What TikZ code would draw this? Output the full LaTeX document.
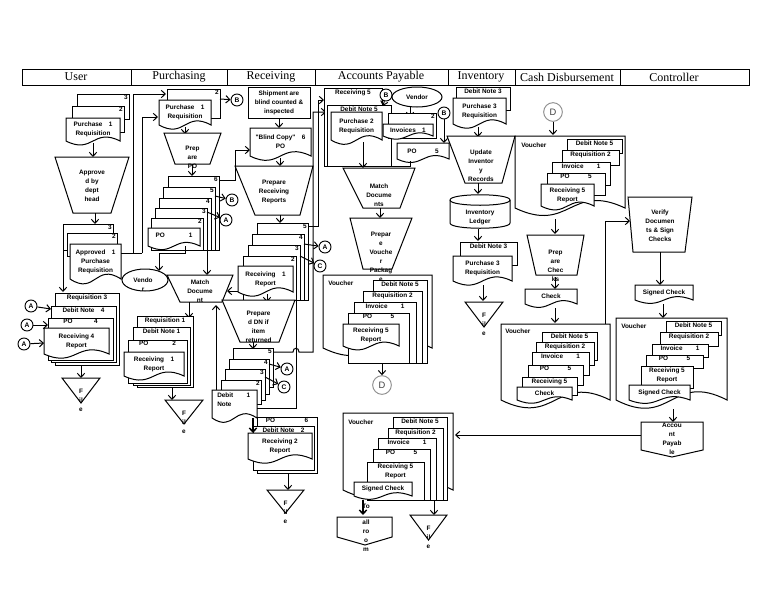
\documentclass[tikz,border=0pt]{standalone}
\usepackage{fontspec}
\setmainfont{Liberation Serif}
\newfontfamily\bodyfont{Liberation Sans}
\usetikzlibrary{arrows.meta,shapes.geometric}

\newcommand\DocS[7][0]{%
  \draw[shp] (#3,#4) -- (#5,#4) -- (#5,#6) .. controls ({(#3+#5)/2},{#6-8-0.25*(#6-#4)}) and ({(#3+#5)/2},{#6+8+0.25*(#6-#4)}) .. (#3,#6) -- cycle;
  \node[txt, minimum width={(#5-#3)*0.75pt}, minimum height={(#6-#4)*0.75pt}] (#2) at ({(#3+#5)/2},{(#4+#6)/2+(#1)}) {#7};
}
\newcommand\SBox[7][north]{%
  \node[shp, inner sep=0pt, minimum width={(#5-#3)*0.75pt}, minimum height={(#6-#4)*0.75pt},
    label={[txt,anchor=#1,inner sep=1.2pt]#1:{#7}}] (#2) at ({(#3+#5)/2},{(#4+#6)/2}) {};
}
\newcommand\TrapS[9]{%
  \draw[shp] (#2,#4) -- (#3,#4) -- (#6,#7) -- (#5,#7) -- cycle;
  \node[txt] (#1) at ({(#2+#3)/2},{#8}) {#9};
}
\newcommand\FileT[5]{%
  \draw[shp] (#2,#4) -- (#3,#4) -- ({(#2+#3)/2},#5) -- cycle;
  \node[txt] (#1) at ({(#2+#3)/2},{#4+22}) {F\\il\\e};
}

\begin{document}
\begin{tikzpicture}[x=0.75pt,y=-0.75pt,
  ln/.style={line width=0.75pt},
  shp/.style={draw, fill=white, line width=0.75pt},
  arr/.style={draw, line width=0.75pt, -{Straight Barb[length=3pt,width=5.5pt]}},
  txt/.style={font=\bodyfont\bfseries\fontsize{4.8}{6.75}\selectfont, align=center, inner sep=0pt},
  con/.style={circle, draw, fill=white, line width=0.7pt, minimum size=9pt, inner sep=0pt, font=\bodyfont\bfseries\fontsize{5}{6}\selectfont},
  dcon/.style={circle, draw=black!45, fill=white, line width=0.7pt, minimum size=14pt, inner sep=0pt, font=\bodyfont\fontsize{7}{8}\selectfont, text=black!75},
  hdr/.style={font=\fontsize{9}{10}\selectfont, inner sep=0pt}
]
\fill[white] (0,0) rectangle (768,594);
\useasboundingbox (0,0) rectangle (768,594);

% ---------- header ----------
\draw[ln] (22,69) rectangle (749,85);
\foreach \x in {131,227,315,448,515,620} \draw[ln] (\x,69) -- (\x,85);
\node[hdr] (hU) at (76,77) {User};
\node[hdr] (hP) at (179,77) {Purchasing};
\node[hdr] (hR) at (271,77) {Receiving};
\node[hdr] (hA) at (381,77) {Accounts Payable};
\node[hdr] (hI) at (481,77) {Inventory};
\node[hdr] (hC) at (567,77) {Cash Disbursement};
\node[hdr] (hK) at (674,77) {Controller};

% ---------- User ----------
\SBox[north east]{u3}{77}{94}{129}{119}{3}
\SBox[north east]{u2}{72}{106}{124}{132}{2}
\DocS{ureq}{66}{118}{120}{141}{Purchase\quad 1\\Requisition}
\draw[arr] (93,143) -- (93,157);
\TrapS{uappr}{55}{129}{157}{73}{111}{213}{186}{Approve\\d by\\dept\\head}
\draw[arr] (95,213) -- (95,224);
\SBox[north east]{ua3}{63}{224}{113}{250}{3}
\SBox[north east]{ua2}{67}{233}{117}{256}{2}
\DocS{uapr}{70}{244}{121}{279}{Approved\quad 1\\Purchase\\Requisition}
\draw[ln] (121,253) -- (142,253);
\draw[arr] (133,253) -- (133,94) -- (166,94);
\draw[arr] (142,253) -- (142,117) -- (158,117);
\draw[arr] (63,250) -- (63,292);

\SBox{ur3}{55}{293}{119}{365}{Requisition 3}
\SBox{ud4}{51}{306}{116}{362}{Debit Note\quad 4}
\SBox{up4}{48}{318}{113}{360}{PO\hspace{16pt}4}
\DocS{urec4}{44}{328}{109}{354}{Receiving 4\\Report}
\node[con] (uA1) at (31,306) {A};
\node[con] (uA2) at (27,325) {A};
\node[con] (uA3) at (24,344) {A};
\draw[arr] (uA1) -- (51,309);
\draw[arr] (uA2) -- (48,325);
\draw[arr] (uA3) -- (44,343);
\draw[arr] (81,365) -- (81,378);
\FileT{uf}{62}{100}{378}{403}

% ---------- Purchasing ----------
\SBox[north east]{pr2}{167}{89}{220}{118}{2}
\DocS{preq}{159}{100}{211}{125}{Purchase\quad 1\\Requisition}
\node[con] (pB1) at (237,100) {B};
\draw[arr] (220,99) -- (pB1);
\draw[arr] (185,127) -- (185,134);
\TrapS{pprep}{164}{221}{133}{175}{210}{164}{157}{Prep\\are\\PO}
\draw[arr] (192,164) -- (192,176);
\SBox[north east]{po6}{168}{176}{219}{250}{6}
\SBox[north east]{po5}{163}{187}{215}{250}{5}
\SBox[north east]{po4}{159}{198}{211}{250}{4}
\SBox[north east]{po3}{155}{208}{207}{250}{3}
\SBox[north east]{po2}{151}{218}{203}{250}{2}
\DocS[-2]{po1}{148}{228}{200}{246}{PO\hspace{18pt}1}
\node[con] (pB2) at (232,200) {B};
\node[con] (pA) at (226,220) {A};
\draw[arr] (215,196) -- (pB2);
\draw[arr] (207,212) -- (pA);
\draw[arr] (219,180) -- (235,180) -- (235,150) -- (250,150);
\draw[ln] (185,246) -- (185,253) -- (159,253);
\draw[arr] (159,253) -- (159,271);
\draw[arr] (207,250) -- (207,275);
\node[ellipse, shp, minimum width={46*0.75pt}, minimum height={22*0.75pt}, inner sep=0pt] (pven) at (145,280) {};
\node[txt] (pventxt) at (143,285) {Vendo\\r};
\TrapS{pmatch}{167}{233}{275}{180}{222}{302}{291}{Match\\Docume\\nt}
\draw[arr] (238,291) -- (227,291);
\draw[arr] (216,390) -- (216,305);
\draw[arr] (189,302) -- (189,318);
\SBox{pq1}{137}{316}{193}{387}{Requisition 1}
\SBox{pd1}{133}{327}{190}{385}{Debit Note 1}
\SBox{pp2}{128}{340}{187}{383}{PO\hspace{18pt}2}
\DocS{prec1}{124}{352}{184}{376}{Receiving\quad 1\\Report}
\draw[arr] (172,387) -- (172,400);
\FileT{pf}{165}{203}{400}{424}

% ---------- Receiving ----------
\node[shp, txt, minimum width={62*0.75pt}, minimum height={31*0.75pt}] (rship) at (279,102.5) {Shipment are\\blind counted \&\\inspected};
\draw[arr] (rship.south) -- (279,128);
\DocS{rblind}{250}{128}{311}{156}{"Blind Copy"\quad 6\\PO}
\draw[arr] (280,158) -- (280,166);
\TrapS{rprep}{235}{313}{166}{255}{300}{215}{192}{Prepare\\Receiving\\Reports}
\draw[arr] (280,215) -- (280,223);
\SBox[north east]{rr5}{257}{223}{308}{300}{5}
\SBox[north east]{rr4}{252}{234}{304}{300}{4}
\SBox[north east]{rr3}{248}{245}{300}{300}{3}
\SBox[north east]{rr2}{243}{256}{296}{300}{2}
\DocS{rrec1}{238}{266}{293}{292}{Receiving\quad 1\\Report}
\node[con] (rA) at (325,247) {A};
\node[con] (rC) at (320,266) {C};
\draw[arr] (304,244) -- (rA);
\draw[arr] (300,256) -- (rC);
\draw[arr] (308,226) -- (318,226) -- (318,100) -- (324,100);
\draw[arr] (267,294) -- (267,302);
\TrapS{rdn}{222}{295}{300}{240}{279}{342}{327}{Prepare\\d DN if\\item\\returned}
\draw[arr] (253,342) -- (253,349);
\SBox[north east]{rd5}{233}{348}{273}{387}{5}
\SBox[north east]{rd4}{229}{359}{269}{394}{4}
\SBox[north east]{rd3}{225}{369}{265}{400}{3}
\SBox[north east]{rd2}{221}{380}{261}{404}{2}
\DocS{rdn1}{212}{390}{257}{418}{}
\node[txt, align=left, anchor=north west] (rdn1t) at (217,393) {Debit\hspace{10pt}1\\Note};
\node[con] (rA2) at (287,369) {A};
\node[con] (rC2) at (284,387) {C};
\draw[arr] (269,364) -- (rA2);
\draw[arr] (265,377) -- (rC2);
\draw[ln] (296,300) -- (296,408) -- (257,408);
\draw[arr] (273,352) -- (293,352) .. controls (293,347) and (299,347) .. (299,352) -- (313,352) -- (313,112) -- (326,112);
\SBox{rpo6}{257}{417}{317}{473}{PO\hspace{22pt}6}
\SBox{rdn2}{253}{426}{314}{470}{Debit Note\quad 2}
\DocS{rrec2}{248}{433}{312}{459}{Receiving 2\\Report}
\draw[arr, line width=1.1pt] (253,418) -- (253,433);
\draw[arr] (288,473) -- (288,490);
\FileT{rf}{267}{304}{490}{513}

% ---------- Accounts Payable ----------
\SBox{ar5}{324}{88}{382}{166}{Receiving 5}
\SBox{ad5}{327}{105}{391}{166}{Debit Note 5}
\DocS{apr2}{331}{112}{382}{140}{Purchase 2\\Requisition}
\node[con] (aB1) at (386,95) {B};
\draw[arr] (aB1) -- (383,106);
\node[ellipse, shp, txt, minimum width={50*0.75pt}, minimum height={20*0.75pt}] (aven) at (417,97) {Vendor};
\draw[arr] (410,107) -- (410,117);
\SBox[north east]{ai2}{388}{113}{436}{138}{2}
\DocS{ainv}{383}{124}{433}{136}{Invoices\quad 1}
\DocS{apo5}{397}{143}{449}{159}{PO\hspace{14pt}5}
\node[con] (aB2) at (444,113) {B};
\draw[arr] (aB2) -- (444,143);
\draw[ln] (324,166) -- (410,166) -- (410,161);
\draw[arr] (363,142) -- (363,168);
\TrapS{amatch}{343}{415}{168}{363}{400}{208}{195}{Match\\Docume\\nts}
\draw[arr] (380,208) -- (380,218);
\DocS{avou}{323}{275}{432}{348}{}
\node[txt, anchor=west] (avoul) at (328,283) {Voucher};
\SBox{av1}{373}{280}{427}{363}{Debit Note 5}
\SBox{av2}{363}{291}{422}{363}{Requisition 2}
\SBox{av3}{354}{302}{416}{363}{Invoice\hspace{10pt}1}
\SBox{av4}{348}{313}{409}{363}{PO\hspace{14pt}5}
\DocS{av5}{343}{324}{399}{346}{Receiving 5\\Report}
\TrapS{aprep}{350}{412}{218}{363}{392}{269}{257}{Prepar\\e\\Vouche\\r\\Packag\\e}
\node[dcon] (aD) at (382,385) {D};
\draw[arr] (382,363) -- (aD);

\DocS{avou2}{343}{413}{453}{490}{}
\node[txt, anchor=west] (avou2l) at (348,422) {Voucher};
\SBox{aw1}{393}{417}{447}{500}{Debit Note 5}
\SBox{aw2}{388}{428}{443}{500}{Requisition 2}
\SBox{aw3}{378}{438}{436}{500}{Invoice\hspace{10pt}1}
\SBox{aw4}{373}{449}{430}{500}{PO\hspace{14pt}5}
\SBox{aw5}{367}{462}{424}{500}{Receiving 5\\Report}
\DocS{aw6}{354}{482}{412}{496}{Signed Check}
\draw[shp] (337,517) -- (392,517) -- (392,537) -- (365,545) -- (337,537) -- cycle;
\node[txt] (ato) at (366,506) {To};
\node[txt] (atoall) at (366,536) {all\\ro\\o\\m};
\draw[arr, line width=1.1pt] (363,500) -- (363,515);
\draw[arr] (434,500) -- (434,515);
\FileT{af}{410}{447}{515}{540}

% ---------- Inventory ----------
\SBox{id3}{456}{87}{510}{110}{Debit Note 3}
\DocS{ipr3}{453}{98}{506}{124}{Purchase 3\\Requisition}
\draw[arr] (478,127) -- (478,137);
\TrapS{iupd}{447}{515}{136}{465}{502}{183}{166}{Update\\Inventor\\y\\Records}
\draw[arr] (478,183) -- (478,194);
\draw[shp] (450,200) -- (450,223) .. controls (450,230) and (510,230) .. (510,223) -- (510,200) .. controls (510,193) and (450,193) .. (450,200) -- cycle;
\draw[ln] (450,200) .. controls (450,207) and (510,207) .. (510,200);
\node[txt] (iled) at (480,217) {Inventory\\Ledger};
\draw[arr] (478,229) -- (478,241);
\SBox{id3b}{460}{242}{517}{265}{Debit Note 3}
\DocS{ipr3b}{453}{256}{512}{281}{Purchase 3\\Requisition}
\draw[arr] (483,285) -- (483,301);
\FileT{if}{465}{503}{302}{327}

% ---------- Cash Disbursement ----------
\node[dcon] (cD) at (553,112) {D};
\draw[arr] (cD) -- (553,135);
\DocS{cvou}{515}{136}{625}{208}{}
\node[txt, anchor=west] (cvoul) at (521,145) {Voucher};
\SBox{cv1}{567}{139}{622}{153}{Debit Note 5}
\SBox{cv2}{562}{150}{619}{165}{Requisition 2}
\SBox{cv3}{552}{162}{610}{185}{Invoice\hspace{10pt}1}
\SBox{cv4}{547}{173}{605}{195}{PO\hspace{14pt}5}
\DocS{cv5}{541}{184}{594}{206}{Receiving 5\\Report}
\draw[arr] (555,219) -- (555,234);
\TrapS{cprep}{527}{584}{235}{536}{577}{275}{266}{Prep\\are\\Chec\\ks}
\draw[arr] (555,277) -- (555,289);
\DocS{cchk}{525}{289}{577}{304}{Check}
\draw[arr] (555,308) -- (555,323);
\DocS{cvou2}{501}{324}{610}{400}{}
\node[txt, anchor=west] (cvou2l) at (505,331) {Voucher};
\SBox{cw1}{542}{332}{597}{360}{Debit Note 5}
\SBox{cw2}{536}{342}{594}{365}{Requisition 2}
\SBox{cw3}{532}{352}{589}{375}{Invoice\hspace{10pt}1}
\SBox{cw4}{528}{365}{583}{385}{PO\hspace{14pt}5}
\SBox{cw5}{522}{377}{577}{395}{Receiving 5}
\DocS{cw6}{517}{387}{572}{400}{Check}
\draw[arr] (605,324) -- (605,221) -- (630,221);

% ---------- Controller ----------
\TrapS{kver}{628}{692}{197}{633}{685}{252}{226}{Verify\\Documen\\ts \& Sign\\Checks}
\draw[arr] (660,252) -- (660,285);
\DocS{ksc}{635}{285}{693}{300}{Signed Check}
\draw[arr] (663,304) -- (663,318);
\DocS{kvou}{616}{318}{727}{400}{}
\node[txt, anchor=west] (kvoul) at (621,326) {Voucher};
\SBox{kv1}{666}{321}{721}{335}{Debit Note 5}
\SBox{kv2}{660}{332}{718}{346}{Requisition 2}
\SBox{kv3}{652}{344}{708}{357}{Invoice\hspace{10pt}1}
\SBox{kv4}{646}{355}{703}{368}{PO\hspace{14pt}5}
\SBox{kv5}{641}{366}{693}{388}{Receiving 5\\Report}
\DocS{kv6}{629}{385}{690}{400}{Signed Check}
\draw[arr] (673,409) -- (673,422);
\draw[shp] (641,422) -- (703,422) -- (703,450) -- (672,457) -- (641,450) -- cycle;
\node[txt] (kacc) at (672,439) {Accou\\nt\\Payab\\le};
\coordinate (kaccw) at (641,435);
\draw[arr] (kaccw) -- (455,435);
\end{tikzpicture}
\end{document}
